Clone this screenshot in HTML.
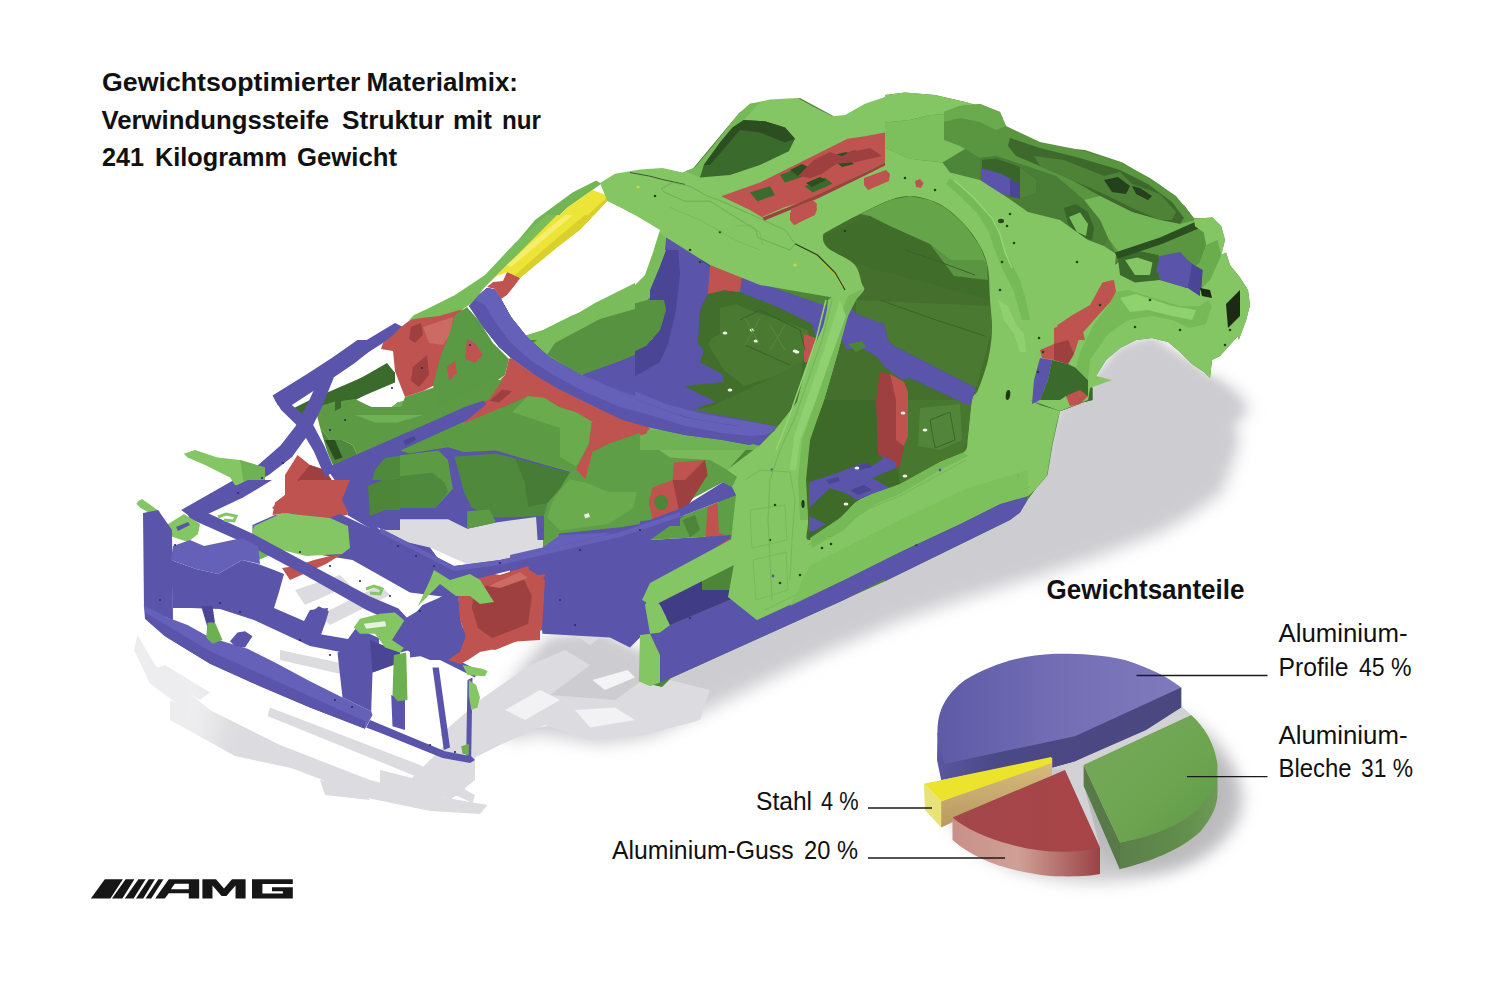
<!DOCTYPE html>
<html><head><meta charset="utf-8"><title>Gewichtsoptimierter Materialmix</title>
<style>
html,body{margin:0;padding:0;background:#fff;}
body{width:1500px;height:1000px;overflow:hidden;font-family:"Liberation Sans",sans-serif;}
svg{display:block}
text{font-family:"Liberation Sans",sans-serif;fill:#111}
</style></head><body>
<svg width="1500" height="1000" viewBox="0 0 1500 1000">
<defs>
<filter id="b4" filterUnits="userSpaceOnUse" x="0" y="0" width="1500" height="1000"><feGaussianBlur stdDeviation="4"/></filter>
<filter id="b8" filterUnits="userSpaceOnUse" x="0" y="0" width="1500" height="1000"><feGaussianBlur stdDeviation="8"/></filter>
<filter id="b14" filterUnits="userSpaceOnUse" x="0" y="0" width="1500" height="1000"><feGaussianBlur stdDeviation="14"/></filter>
<filter id="b1" filterUnits="userSpaceOnUse" x="0" y="0" width="1500" height="1000"><feGaussianBlur stdDeviation="0.6"/></filter>
<linearGradient id="gBlueTop" x1="0" y1="0" x2="1" y2="0"><stop offset="0" stop-color="#5e5aa6"/><stop offset="0.55" stop-color="#7570b6"/><stop offset="1" stop-color="#7f7abc"/></linearGradient>
<linearGradient id="gBlueSide" x1="0" y1="0" x2="1" y2="0"><stop offset="0" stop-color="#5a56a0"/><stop offset="0.25" stop-color="#4b4886"/><stop offset="1" stop-color="#4a4780"/></linearGradient>
<linearGradient id="gGreenTop" x1="0" y1="0" x2="1" y2="1"><stop offset="0" stop-color="#74a85a"/><stop offset="0.5" stop-color="#6fa652"/><stop offset="1" stop-color="#5f9a45"/></linearGradient>
<linearGradient id="gGreenSide" x1="0" y1="0" x2="1" y2="0"><stop offset="0" stop-color="#5d7f4b"/><stop offset="0.5" stop-color="#5f8a4a"/><stop offset="1" stop-color="#6d9a55"/></linearGradient>
<linearGradient id="gRedTop" x1="0" y1="0" x2="1" y2="0"><stop offset="0" stop-color="#a3474a"/><stop offset="1" stop-color="#a84448"/></linearGradient>
<linearGradient id="gRedSide" x1="0" y1="0" x2="1" y2="0"><stop offset="0" stop-color="#c89088"/><stop offset="0.45" stop-color="#cfa096"/><stop offset="1" stop-color="#9a4244"/></linearGradient>
<linearGradient id="gTan" x1="0" y1="0" x2="0" y2="1"><stop offset="0" stop-color="#d6bc7c"/><stop offset="1" stop-color="#b89860"/></linearGradient>
<radialGradient id="gPieSh" cx="0.5" cy="0.5" r="0.5"><stop offset="0.7" stop-color="#b8b8bc" stop-opacity="0.9"/><stop offset="1" stop-color="#ffffff" stop-opacity="0"/></radialGradient>

</defs>
<rect width="1500" height="1000" fill="#fff"/>
<polygon points="1060.0,410.0 1090.0,384.0 1120.0,348.0 1152.0,338.0 1192.0,364.0 1210.0,378.0 1222.0,380.0 1245.0,398.0 1250.0,415.0 1235.0,420.0 1240.0,440.0 1235.0,460.0 1222.0,494.0 1190.0,517.0 1160.0,534.0 1100.0,557.0 1040.0,577.0 965.0,600.0 900.0,622.0 820.0,656.0 750.0,690.0 700.0,715.0 650.0,738.0 600.0,745.0 540.0,735.0 510.0,740.0 488.0,725.0 498.0,702.0 522.0,665.0 548.0,636.0 600.0,630.0 640.0,652.0 700.0,640.0 900.0,540.0 1030.0,490.0" fill="#d2d2d6" filter="url(#b8)"/>
<polygon points="1060.0,410.0 1090.0,384.0 1120.0,348.0 1152.0,338.0 1192.0,364.0 1210.0,378.0 1220.0,384.0 1238.0,402.0 1240.0,415.0 1228.0,422.0 1232.0,440.0 1226.0,456.0 1214.0,486.0 1184.0,508.0 1154.0,524.0 1094.0,546.0 1034.0,566.0 960.0,588.0 895.0,610.0 815.0,645.0 745.0,678.0 695.0,703.0 648.0,725.0 600.0,732.0 545.0,722.0 515.0,726.0 498.0,716.0 508.0,700.0 530.0,668.0 552.0,642.0 600.0,636.0 640.0,655.0 700.0,642.0 900.0,542.0 1030.0,492.0" fill="#cdcdd1" filter="url(#b4)"/>
<polygon points="592.5,680.0 627.5,670.0 635.0,677.5 605.0,690.0" fill="#f4f4f6" filter="url(#b1)"/>
<polygon points="550.0,712.5 602.5,702.5 627.5,720.0 610.0,730.0 560.0,722.5" fill="#f4f4f6" filter="url(#b1)"/>
<polygon points="640.0,697.5 670.0,690.0 685.0,695.0 660.0,705.0" fill="#f4f4f6" filter="url(#b1)"/>
<polygon points="522.5,720.0 540.0,712.5 552.5,725.0 525.0,730.0" fill="#f4f4f6" filter="url(#b1)"/>
<g fill="#dcdce0" filter="url(#b1)"><polygon points="137.5,635.0 155.0,665.0 210.0,710.0 280.0,745.0 370.0,780.0 430.0,795.0 487.5,805.0 480.0,814.0 430.0,811.0 370.0,798.5 280.0,763.5 210.0,728.5 150.0,683.5 134.0,650.0"/><polygon points="170.0,700.0 240.0,735.0 290.0,750.0 300.0,770.0 235.0,756.0 170.0,720.0"/><polygon points="150.0,670.0 165.0,665.0 210.0,692.5 200.0,700.0"/><polygon points="270.0,707.5 420.0,765.0 475.0,795.0 472.5,803.0 415.0,776.0 267.5,716.0"/><polygon points="295.0,590.0 340.0,575.0 350.0,585.0 305.0,605.0"/><polygon points="320.0,615.0 380.0,585.0 390.0,595.0 330.0,625.0"/><polygon points="280.0,650.0 350.0,665.0 345.0,675.0 280.0,660.0"/><polygon points="320.0,780.0 360.0,787.5 370.0,800.0 325.0,795.0"/><polygon points="380.0,770.0 420.0,780.0 465.0,780.0 465.0,795.0 425.0,800.0 380.0,785.0"/><polygon points="440.0,735.0 480.0,700.0 530.0,665.0 565.0,650.0 590.0,665.0 550.0,695.0 615.0,700.0 650.0,675.0 710.0,690.0 700.0,720.0 645.0,735.0 590.0,740.0 545.0,725.0 500.0,745.0 470.0,760.0"/><polygon points="410.0,780.0 450.0,740.0 475.0,750.0 475.0,780.0 450.0,800.0"/><polygon points="560.0,625.0 600.0,600.0 630.0,615.0 590.0,645.0"/></g>
<polygon points="505.0,710.0 540.0,690.0 560.0,700.0 525.0,720.0" fill="#f2f2f4"/>
<polygon points="575.0,710.0 615.0,707.5 635.0,720.0 590.0,727.5" fill="#f2f2f4"/>
<ellipse cx="160" cy="700" rx="60" ry="90" fill="#fff" opacity="0.5" filter="url(#b14)"/>
<polygon points="600.0,183.0 690.0,172.0 740.0,112.0 800.0,98.0 850.0,125.0 885.0,97.0 885.0,95.0 905.0,92.5 935.0,95.0 967.5,102.5 995.0,111.2 1002.5,117.5 1003.8,127.5 1017.5,138.8 1045.0,146.2 1085.0,150.0 1122.5,162.5 1160.0,185.0 1185.0,206.2 1193.8,218.8 1212.5,217.5 1221.2,226.2 1225.0,240.0 1221.2,255.0 1226.0,252.5 1230.0,265.0 1240.0,277.5 1248.0,290.0 1250.0,305.0 1246.2,320.0 1238.8,340.0 1238.0,336.0 1220.0,356.0 1212.0,360.0 1210.0,378.0 1204.0,372.0 1192.0,364.0 1180.0,352.0 1168.0,342.0 1152.0,338.0 1136.0,340.0 1120.0,348.0 1106.0,360.0 1096.0,376.0 1090.0,384.0 1088.0,400.0 1092.5,387.5 1092.5,400.0 1082.5,402.5 1070.0,407.5 1060.0,411.2 1057.5,422.5 1052.5,445.0 1047.5,475.0 1035.0,490.0 1027.5,500.0 1020.0,512.5 1010.0,520.0 885.0,581.2 671.0,678.0 662.0,687.0 645.0,683.0 640.0,660.0 642.0,636.0 690.0,600.0 727.0,470.0 700.0,400.0 655.0,345.0 645.0,300.0 655.0,240.0" fill="#4d8539" />
<polygon points="530.0,340.0 642.5,340.0 627.5,357.5 582.5,372.5 560.0,367.5 540.0,357.5" fill="#4d8539" />
<polygon points="705.0,340.0 817.5,340.0 805.0,370.0 797.5,402.5 775.0,427.5 735.0,426.2 692.5,412.5 717.5,402.5 685.0,385.0 722.5,382.5 722.5,377.5 703.8,365.0" fill="#4a7f36" />
<polygon points="582.5,372.5 627.5,357.5 642.5,340.0 705.0,340.0 703.8,365.0 722.5,377.5 722.5,382.5 685.0,385.0 717.5,402.5 692.5,412.5 635.0,400.0" fill="#5a54aa" />
<polygon points="632.5,385.0 660.0,377.5 685.0,385.0 665.0,393.8 640.0,397.5" fill="#4a4594" />
<polygon points="510.0,455.0 572.5,472.5 545.0,515.0 510.0,520.0" fill="#4d8539" />
<polygon points="510.0,450.0 520.0,453.8 572.5,470.0 572.5,475.0 510.0,457.5" fill="#5a54aa" />
<polygon points="510.0,380.0 535.0,390.0 595.0,417.5 590.0,445.0 576.2,467.5 583.8,477.5 592.5,457.5 615.0,440.0 630.0,432.5 647.5,436.2 650.0,427.5 685.0,435.0 722.5,440.0 750.0,445.0 727.5,470.0 737.5,477.5 732.5,487.5 722.5,482.5 685.0,502.5 652.5,525.0 560.0,535.0 542.5,547.5 545.0,515.0 572.5,472.5 510.0,455.0" fill="#5e9e46" />
<polygon points="650.0,427.5 685.0,435.0 722.5,440.0 750.0,445.0 727.5,470.0 710.0,460.0 670.0,457.5 645.0,440.0" fill="#79bb5a" />
<polygon points="572.5,472.5 592.5,457.5 615.0,440.0 635.0,445.0 640.0,480.0 620.0,510.0 585.0,520.0 550.0,525.0 545.0,515.0" fill="#6aac4e" />
<polygon points="630.0,395.0 717.5,401.2 712.5,423.8 682.5,421.2 650.0,412.5" fill="#5a54aa" />
<polygon points="652.5,526.2 685.0,515.0 736.2,495.0 740.0,537.5 735.0,535.0 650.0,540.0" fill="#5e9e46" />
<polygon points="510.0,361.2 540.0,377.5 585.0,402.5 622.5,420.0 650.0,427.5 647.5,436.2 630.0,432.5 595.0,417.5 535.0,390.0 510.0,380.0" fill="#bf5350" />
<polygon points="595.0,417.5 630.0,432.5 615.0,440.0 592.5,457.5 583.8,477.5 576.2,467.5 590.0,445.0" fill="#bf5350" />
<polygon points="598.8,426.2 610.0,425.0 617.5,433.8 605.0,440.0" fill="#6db052" />
<polygon points="673.8,462.5 705.0,460.0 707.5,475.0 690.0,502.5 680.0,515.0 652.5,520.0 648.8,502.5 652.5,487.5 672.5,480.0" fill="#bf5350" />
<polygon points="672.5,480.0 685.0,480.0 705.0,460.0 707.5,475.0 690.0,502.5 680.0,515.0" fill="#9e4040" />
<ellipse cx="661.2" cy="502.5" rx="7" ry="7.5" fill="#4d8539"/>
<polygon points="722.5,482.5 732.5,487.5 736.2,495.0 685.0,515.0 652.5,526.2 560.0,537.5 557.5,532.5 650.0,520.0 682.5,507.5" fill="#5a54aa" />
<polygon points="707.5,507.5 717.5,502.5 718.8,532.5 730.0,537.5 727.5,545.0 705.0,546.2" fill="#bf5350" />
<polygon points="682.5,520.0 695.0,515.0 700.0,530.0 690.0,537.5" fill="#4d8539" />
<polygon points="510.0,552.5 542.5,547.5 560.0,535.0 652.5,526.2 685.0,515.0 650.0,540.0 735.0,535.0 650.0,590.0 510.0,590.0" fill="#5a54aa" />
<polygon points="510.0,552.5 542.5,547.5 560.0,535.0 610.0,532.5 585.0,547.5 535.0,557.5 510.0,562.5" fill="#6560b8" />
<polygon points="510.0,520.0 545.0,515.0 542.5,547.5 510.0,555.0" fill="#dcdce0" />
<polygon points="1038.8,365.0 1050.0,362.5 1047.5,395.0 1040.0,405.0 1032.5,400.0" fill="#5a54aa" />
<polygon points="1050.0,362.5 1070.0,365.0 1085.0,382.5 1092.5,387.5 1092.5,400.0 1082.5,402.5 1070.0,407.5 1060.0,411.2 1040.0,405.0 1047.5,395.0" fill="#3a6a2c" />
<polygon points="1040.0,340.0 1075.0,340.0 1070.0,365.0 1050.0,362.5 1055.0,350.0" fill="#bf5350" />
<polygon points="1065.0,392.5 1085.0,387.5 1085.0,398.8 1072.5,402.5" fill="#bf5350" />
<polygon points="1075.0,340.0 1120.0,348.0 1106.0,360.0 1096.0,376.0 1112.0,380.0 1090.0,388.0 1088.0,400.0 1078.0,384.0 1070.0,365.0" fill="#84c663" />
<polygon points="1027.5,500.0 1020.0,512.5 1010.0,520.0 885.0,581.2 885.0,560.0 1000.0,512.5" fill="#5a54aa" />
<polygon points="540.0,590.0 610.0,590.0 610.0,637.5 542.5,633.8 540.0,615.0" fill="#5a54aa" />
<polygon points="610.0,590.0 642.5,590.0 650.0,615.0 642.5,635.0 630.0,647.5 610.0,637.5" fill="#5a54aa" />
<polygon points="642.5,635.0 660.0,632.5 670.0,625.0 735.0,597.5 755.0,590.0 885.0,562.5 885.0,577.5 842.5,597.5 660.0,682.5 658.8,655.0" fill="#5a54aa" />
<polygon points="636.0,582.0 654.0,578.0 654.0,638.0 640.0,638.0" fill="#5a54aa" />
<polygon points="676.0,582.0 702.0,572.0 702.0,594.0 676.0,600.0" fill="#403c86" />
<polygon points="640.0,635.0 650.0,633.8 660.0,655.0 660.0,682.5 650.0,686.2 638.8,681.2" fill="#84c663" />
<polygon points="645.0,605.0 650.0,595.0 660.0,605.0 670.0,625.0 660.0,632.5 650.0,633.8" fill="#84c663" />
<polygon points="650.0,595.0 685.0,590.0 735.0,590.0 735.0,597.5 670.0,625.0 660.0,605.0" fill="#403c86" />
<polygon points="735.0,597.5 745.0,590.0 842.5,590.0 785.0,610.0 755.0,615.0" fill="#84c663" />
<polygon points="660.0,230.0 670.0,237.5 665.0,250.0 657.5,275.0 650.0,297.5 635.0,307.5 605.0,320.0 560.0,340.0 510.0,340.0 542.5,330.0 572.5,315.0 605.0,302.5 630.0,290.0 645.0,275.0 653.8,250.0" fill="#79bd5a" />
<polygon points="666.2,237.5 685.0,245.0 702.5,255.0 710.0,265.0 707.5,292.5 702.5,340.0 665.0,340.0 662.5,305.0 650.0,297.5 657.5,275.0 665.0,250.0" fill="#5a54aa" />
<polygon points="685.0,245.0 702.5,255.0 710.0,265.0 707.5,292.5 702.5,340.0 692.5,340.0 695.0,265.0" fill="#4a4594" />
<polygon points="710.0,265.0 742.5,277.5 740.0,292.5 733.8,297.5 707.5,292.5" fill="#bf5350" />
<polygon points="742.5,277.5 827.5,306.2 885.0,330.0 885.0,340.0 842.5,340.0 820.0,323.8 740.0,292.5" fill="#5a54aa" />
<polygon points="707.5,292.5 733.8,297.5 740.0,292.5 820.0,323.8 842.5,340.0 702.5,340.0" fill="#3f7030" />
<polygon points="510.0,250.0 535.0,220.0 572.5,192.5 596.2,180.5 601.2,183.8 592.5,190.0 567.5,207.5 510.0,262.5" fill="#72b555" />
<polygon points="510.0,262.5 567.5,207.5 592.5,190.0 606.2,195.0 607.5,201.2 580.0,230.0 520.0,276.2 510.0,272.5" fill="#ece436" />
<polygon points="510.0,272.5 520.0,276.2 580.0,230.0 607.5,201.2 606.2,198.0 577.5,225.0 517.5,270.0 510.0,267.5" fill="#d8cf2c" />
<polygon points="666.0,250.0 700.0,250.0 702.0,262.0 710.0,266.0 708.0,294.0 700.0,310.0 698.0,344.0 704.0,350.0 700.0,362.0 722.0,374.0 724.0,382.0 684.0,386.0 716.0,402.0 696.0,408.0 776.0,426.0 760.0,446.0 700.0,430.0 650.0,416.0 600.0,398.0 600.0,364.0 620.0,358.0 646.0,346.0 660.0,330.0 666.0,310.0 664.0,300.0 650.0,300.0 650.0,290.0 660.0,266.0" fill="#5a54aa" />
<polygon points="666.0,250.0 678.0,250.0 680.0,274.0 676.0,310.0 668.0,344.0 660.0,362.0 632.0,378.0 600.0,378.0 600.0,364.0 620.0,358.0 646.0,346.0 660.0,330.0 666.0,310.0 664.0,300.0 650.0,300.0 650.0,290.0 660.0,266.0" fill="#4a4594" />
<polygon points="600.0,374.0 632.0,390.0 666.0,404.0 704.0,414.0 740.0,420.0 776.0,426.0 772.0,431.0 740.0,426.0 700.0,420.0 660.0,410.0 628.0,396.0 600.0,382.0" fill="#6560b8" />
<polygon points="708.0,294.0 724.0,290.0 740.0,292.0 780.0,308.0 812.0,324.0 818.0,340.0 810.0,370.0 800.0,398.0 788.0,420.0 776.0,426.0 696.0,408.0 716.0,402.0 684.0,386.0 724.0,382.0 722.0,374.0 700.0,362.0 704.0,350.0 698.0,344.0 700.0,310.0" fill="#416e2b" />
<polygon points="720.0,308.0 736.0,304.0 744.0,308.0 808.0,330.0 810.0,346.0 802.0,362.0 780.0,374.0 770.0,378.0 744.0,386.0 724.0,370.0 708.0,344.0 712.0,338.0 720.0,334.0" fill="#4a7a32" />
<polygon points="694.0,410.0 712.0,406.0 780.0,374.0 802.0,362.0 800.0,398.0 788.0,420.0 776.0,426.0" fill="#477630" />
<polygon points="710.0,266.0 742.0,276.0 740.0,292.0 724.0,290.0 708.0,294.0" fill="#bf5350" />
<polygon points="742.0,276.0 780.0,290.0 826.0,308.0 858.0,314.0 888.0,330.0 888.0,346.0 860.0,344.0 846.0,340.0 816.0,338.0 812.0,324.0 780.0,308.0 740.0,292.0" fill="#5a54aa" />
<polygon points="804.0,334.0 816.0,338.0 812.0,362.0 804.0,362.0" fill="#bf5350" />
<polygon points="648.0,250.0 666.0,250.0 660.0,266.0 650.0,290.0 648.0,300.0 632.0,304.0 616.0,310.0 600.0,318.0 600.0,302.0 620.0,296.0 636.0,282.0" fill="#7abc5b" />
<polygon points="600.0,318.0 616.0,310.0 632.0,304.0 648.0,300.0 664.0,300.0 666.0,310.0 660.0,330.0 646.0,346.0 620.0,358.0 600.0,364.0" fill="#56923f" />
<polygon points="600.0,410.0 630.0,416.0 648.0,424.0 646.0,434.0 620.0,440.0 600.0,450.0" fill="#bf5350" />
<polygon points="648.0,430.0 700.0,430.0 760.0,446.0 766.0,450.0 600.0,450.0 620.0,440.0 646.0,434.0" fill="#6fb253" />
<polygon points="600.0,183.0 615.0,173.8 640.0,169.5 662.5,168.0 682.5,172.5 695.0,167.5 710.0,150.0 725.0,131.2 738.8,113.8 750.0,103.8 770.0,99.5 797.5,98.0 812.5,106.2 832.5,116.2 845.0,115.0 865.0,103.8 885.0,97.0 885.0,202.0 860.0,214.0 823.0,236.0 832.5,250.0 855.0,265.0 862.5,280.0 855.0,302.5 850.0,340.0 820.0,340.0 827.5,307.5 832.5,297.5 760.0,285.0 710.0,265.0 666.2,237.5 635.0,215.0 607.5,201.2" fill="#84c663" />
<polygon points="685.0,171.2 695.0,167.5 710.0,150.0 725.0,131.2 738.8,113.8 750.0,103.8 760.0,102.5 743.8,120.0 732.5,127.5 720.0,142.5 703.8,165.0 700.0,177.5" fill="#76b958" />
<polygon points="743.8,120.0 765.0,121.2 785.0,127.5 795.0,138.8 788.8,151.2 760.0,165.0 730.0,175.0 700.0,177.5 703.8,165.0 720.0,142.5 732.5,127.5" fill="#3a6a2c" />
<polygon points="743.8,120.0 765.0,121.2 785.0,127.5 795.0,138.8 785.0,142.5 760.0,132.5 740.0,130.0 725.0,147.5 710.0,165.0 703.8,165.0 720.0,142.5 732.5,127.5" fill="#2c4f22" />
<polygon points="721.2,196.2 760.0,182.5 810.0,157.5 847.5,138.8 865.0,136.2 885.0,132.5 885.0,162.5 865.0,172.5 817.5,195.0 787.5,207.5 762.5,217.5 750.0,210.0" fill="#bf5350" />
<polygon points="750.0,192.5 770.0,186.2 775.0,195.0 757.5,201.2" fill="#3a6a2c" />
<polygon points="780.0,175.0 800.0,167.5 807.5,175.0 785.0,182.5" fill="#3a6a2c" />
<polygon points="805.0,186.2 825.0,177.5 832.5,183.8 812.5,192.5" fill="#3a6a2c" />
<polygon points="832.5,157.5 855.0,150.0 860.0,160.0 840.0,165.0" fill="#3a6a2c" />
<polygon points="762.5,217.5 787.5,207.5 817.5,195.0 865.0,172.5 885.0,162.5 885.0,166.2 865.0,176.2 818.8,198.8 788.8,211.2 765.0,221.2" fill="#9e4040" />
<polygon points="790.0,212.5 812.5,203.8 817.0,208.8 815.0,215.0 793.8,225.0 790.0,220.0" fill="#bf5350" />
<polygon points="863.8,180.0 885.0,170.0 885.0,183.8 867.5,191.2 863.8,186.2" fill="#bf5350" />
<polyline points="630.0,172.5 650.0,176.2 662.5,179.5 685.0,184.5" fill="none" stroke="#2c3a1c" stroke-width="0.8" />
<polyline points="795.0,243.8 817.5,255.0 835.0,272.5 845.0,290.0" fill="none" stroke="#2c3a1c" stroke-width="1.2" />
<polygon points="607.5,201.2 635.0,215.0 660.0,230.0 653.8,250.0 645.0,275.0 630.0,290.0 605.0,302.5 572.5,315.0 542.5,330.0 510.0,340.0 500.0,342.5 500.0,280.0 520.0,276.2 580.0,230.0" fill="#fff" />
<polygon points="885.0,95.0 905.0,92.5 935.0,95.0 967.5,102.5 995.0,111.2 1002.5,117.5 1003.8,127.5 985.0,122.5 960.0,113.8 930.0,115.0 910.0,120.0 885.0,122.5" fill="#84c663" />
<polygon points="885.0,122.5 910.0,120.0 930.0,115.0 960.0,113.8 985.0,122.5 967.5,147.5 942.5,162.5 910.0,158.8 885.0,147.5" fill="#7cc05d" />
<polygon points="960.0,106.0 980.0,104.0 1000.0,112.0 1006.0,126.0 1040.0,142.0 1080.0,150.0 1120.0,162.0 1150.0,178.0 1176.0,196.0 1194.0,218.0 1212.0,220.0 1218.0,224.0 1224.0,240.0 1220.0,256.0 1212.0,270.0 1200.0,280.0 1192.0,272.0 1160.0,256.0 1116.0,254.0 1108.0,238.0 1084.0,200.0 1056.0,176.0 1020.0,164.0 996.0,156.0 980.0,158.0 960.0,146.0 944.0,140.0 944.0,112.0" fill="#5a9540" />
<polygon points="944.0,112.0 960.0,106.0 980.0,104.0 1000.0,112.0 1006.0,126.0 996.0,130.0 980.0,122.0 960.0,118.0 944.0,122.0" fill="#6aab4e" />
<polygon points="1010.0,138.0 1040.0,148.0 1080.0,158.0 1120.0,170.0 1148.0,184.0 1172.0,202.0 1184.0,218.0 1180.0,224.0 1160.0,220.0 1132.0,212.0 1100.0,196.0 1072.0,180.0 1040.0,166.0 1016.0,156.0 1008.0,146.0" fill="#3d6a2c" />
<polygon points="1034.0,156.0 1064.0,160.0 1104.0,176.0 1120.0,172.0 1132.0,184.0 1160.0,194.0 1176.0,212.0 1172.0,220.0 1160.0,220.0 1132.0,208.0 1104.0,194.0 1072.0,180.0 1040.0,166.0" fill="#4d8237" />
<polygon points="1104.0,180.0 1118.0,177.0 1130.0,186.0 1126.0,194.0 1112.0,192.0" fill="#24401c" />
<polygon points="1132.0,186.0 1140.0,188.0 1152.0,196.0 1148.0,200.0 1136.0,194.0" fill="#24401c" />
<polygon points="1084.0,200.0 1100.0,196.0 1132.0,212.0 1160.0,220.0 1180.0,224.0 1196.0,220.0 1210.0,220.0 1160.0,240.0 1120.0,254.0 1108.0,238.0 1100.0,220.0" fill="#74b757" />
<polygon points="980.0,158.0 996.0,156.0 1020.0,164.0 1056.0,176.0 1084.0,200.0 1100.0,220.0 1108.0,238.0 1104.0,246.0 1088.0,240.0 1060.0,220.0 1028.0,212.0 1008.0,198.0 980.0,180.0" fill="#4a7d35" />
<polygon points="982.0,160.0 996.0,158.4 1020.0,167.0 1037.0,180.0 1036.0,193.0 1020.0,199.0 1008.0,196.0 982.0,180.0" fill="#3a652a" />
<polygon points="1020.0,167.0 1037.0,180.0 1036.0,193.0 1020.0,199.0 1020.0,184.0" fill="#4f8539" />
<polygon points="981.0,168.0 1002.0,174.0 1020.0,184.0 1020.0,198.0 1002.0,194.0 981.0,184.0" fill="#5a54aa" />
<polygon points="1010.0,179.0 1020.0,184.0 1020.0,198.0 1010.0,196.0" fill="#4a4594" />
<polygon points="1064.0,208.0 1076.0,204.0 1088.0,212.0 1094.0,228.0 1092.0,240.0 1080.0,238.0 1068.0,224.0" fill="#3a652a" />
<polygon points="1069.0,217.0 1080.0,212.4 1088.0,224.0 1086.0,236.0 1077.0,232.0" fill="#7cc05d" />
<polygon points="885.0,147.5 910.0,158.8 942.5,162.5 950.0,172.5 980.0,180.0 1008.0,198.0 1028.0,212.0 1060.0,220.0 1088.0,240.0 1104.0,246.0 1116.0,254.0 1115.0,265.0 1135.0,250.0 1158.8,255.0 1160.0,280.0 1195.0,290.0 1210.0,280.0 1221.2,255.0 1226.0,252.5 1230.0,265.0 1240.0,277.5 1248.0,290.0 1250.0,305.0 1246.2,320.0 1238.8,340.0 1238.0,336.0 1220.0,356.0 1212.0,360.0 1210.0,378.0 1204.0,372.0 1192.0,364.0 1180.0,352.0 1168.0,342.0 1152.0,338.0 1136.0,340.0 1120.0,348.0 1106.0,360.0 1096.0,376.0 1090.0,384.0 1088.0,400.0 1060.0,411.0 1030.0,400.0 885.0,342.5" fill="#84c663" />
<polygon points="1102.5,282.5 1112.5,280.0 1115.0,290.0 1110.0,302.5 1092.5,315.0 1082.5,330.0 1085.0,340.0 1055.0,340.0 1057.5,325.0 1072.5,315.0 1090.0,305.0" fill="#bf5350" />
<polygon points="1117.5,255.0 1135.0,250.0 1158.8,255.0 1160.0,280.0 1135.0,282.5 1120.0,275.0" fill="#3a6a2c" />
<polygon points="1125.0,260.0 1137.5,257.5 1152.5,262.5 1150.0,275.0 1135.0,275.0" fill="#84c663" />
<polygon points="1115.0,252.5 1160.0,237.5 1193.8,222.5 1212.5,218.0 1215.0,221.2 1195.0,230.0 1162.5,243.8 1117.5,258.8" fill="#2c4f22" />
<polygon points="1193.8,218.8 1212.5,217.5 1221.2,226.2 1225.0,240.0 1221.2,255.0 1210.0,280.0 1202.5,287.5 1192.5,282.5 1191.2,270.0 1200.0,262.5 1206.2,245.0 1203.8,232.5 1195.0,226.2" fill="#84c663" />
<polygon points="1206.2,245.0 1217.5,240.0 1221.2,255.0 1210.0,280.0 1202.5,287.5 1192.5,282.5 1191.2,270.0 1200.0,262.5" fill="#6aad4f" />
<polygon points="1161.2,256.2 1187.5,261.2 1202.5,270.0 1201.2,290.0 1185.0,287.5 1160.0,280.0" fill="#5a54aa" />
<polygon points="1187.5,261.2 1202.5,270.0 1201.2,290.0 1185.0,287.5" fill="#4a4594" />
<polygon points="762.0,217.0 785.0,207.0 816.0,198.0 850.0,180.0 890.0,160.0 902.0,158.0 930.0,170.0 960.0,190.0 1000.0,230.0 1030.0,300.0 1035.0,340.0 1032.0,360.0 1030.0,400.0 1040.0,405.0 1060.0,411.0 1057.0,422.0 1052.0,445.0 1047.0,475.0 1035.0,490.0 1028.0,496.0 1000.0,504.0 960.0,524.0 900.0,552.0 844.0,580.0 758.0,621.0 728.0,597.0 734.0,564.0 731.0,540.0 736.0,495.0 732.0,487.0 737.0,477.0 727.0,470.0 760.0,445.0 775.0,430.0 797.0,402.0 805.0,370.0 817.0,340.0 826.0,320.0 828.0,300.0 832.0,297.0" fill="#84c663" />
<polygon points="741.0,534.0 650.0,583.0 642.0,600.0 653.0,606.0 740.0,562.0" fill="#84c663" />
<clipPath id="cDO"><path d="M823.0,236.0 C822.7,239.0 822.8,243.3 828.0,248.0 C833.2,252.7 848.3,258.0 854.0,264.0 C859.7,270.0 860.3,279.7 862.0,284.0 C863.7,288.3 865.0,287.3 864.0,290.0 C863.0,292.7 858.7,295.7 856.0,300.0 C853.3,304.3 851.0,307.3 848.0,316.0 C845.0,324.7 842.0,338.0 838.0,352.0 C834.0,366.0 828.7,385.3 824.0,400.0 C819.3,414.7 813.0,426.7 810.0,440.0 C807.0,453.3 806.3,466.7 806.0,480.0 C805.7,493.3 807.5,510.0 808.0,520.0 C808.5,530.0 803.7,540.3 809.0,540.0 C814.3,539.7 832.2,524.3 840.0,518.0 C847.8,511.7 850.7,506.0 856.0,502.0 C861.3,498.0 864.7,497.0 872.0,494.0 C879.3,491.0 888.7,489.3 900.0,484.0 C911.3,478.7 929.3,467.3 940.0,462.0 C950.7,456.7 959.3,456.3 964.0,452.0 C968.7,447.7 966.7,444.7 968.0,436.0 C969.3,427.3 970.3,407.7 972.0,400.0 C973.7,392.3 975.3,396.7 978.0,390.0 C980.7,383.3 985.7,370.0 988.0,360.0 C990.3,350.0 991.7,340.0 992.0,330.0 C992.3,320.0 990.7,310.3 990.0,300.0 C989.3,289.7 989.7,277.0 988.0,268.0 C986.3,259.0 984.0,253.3 980.0,246.0 C976.0,238.7 969.7,230.3 964.0,224.0 C958.3,217.7 951.7,212.0 946.0,208.0 C940.3,204.0 936.0,202.0 930.0,200.0 C924.0,198.0 916.7,196.0 910.0,196.0 C903.3,196.0 898.3,197.0 890.0,200.0 C881.7,203.0 870.0,209.0 860.0,214.0 C850.0,219.0 836.2,226.3 830.0,230.0 C823.8,233.7 823.3,233.0 823.0,236.0Z"/></clipPath>
<g clip-path="url(#cDO)">
<rect x="790" y="180" width="220" height="380" fill="#456f2d"/>
<polygon points="823.0,236.0 870.0,216.0 890.0,226.0 930.0,244.0 950.0,260.0 982.0,260.0 988.0,280.0 990.0,300.0 856.0,264.0 828.0,248.0" fill="#416d2b" />
<polygon points="860.0,214.0 890.0,200.0 910.0,196.0 930.0,200.0 946.0,208.0 964.0,224.0 980.0,246.0 987.0,264.0 982.0,260.0 950.0,260.0 930.0,244.0 890.0,226.0 870.0,216.0" fill="#65a449" />
<polygon points="930.0,244.0 950.0,260.0 982.0,260.0 987.0,264.0 988.0,280.0 954.0,276.0 942.0,260.0" fill="#5a9641" />
<polygon points="856.0,300.0 990.0,306.0 992.0,330.0 976.0,388.0 894.0,346.0 888.0,340.0 884.0,324.0 856.0,314.0" fill="#4a7a31" />
<polygon points="848.0,316.0 884.0,324.0 888.0,340.0 894.0,346.0 976.0,388.0 970.0,406.0 910.0,378.0 902.0,380.0 886.0,368.0 878.0,358.0 866.0,350.0 846.0,349.0" fill="#3f6a29" />
<polygon points="824.0,400.0 876.0,400.0 878.0,454.0 860.0,464.0 809.0,482.0 806.0,480.0 810.0,440.0" fill="#3d6a28" />
<polygon points="908.0,400.0 972.0,400.0 968.0,436.0 964.0,452.0 940.0,462.0 900.0,484.0 900.0,466.0 904.0,446.0 908.0,436.0" fill="#48772f" />
<polygon points="920.0,408.0 960.0,404.0 962.0,440.0 940.0,450.0 918.0,446.0" fill="#52853a" />
<polygon points="809.0,482.0 860.0,464.0 878.0,454.0 896.0,462.0 900.0,484.0 872.0,494.0 856.0,502.0 840.0,518.0 809.0,540.0" fill="#3f6b29" />
<polygon points="790.0,298.0 850.0,306.0 856.0,314.0 884.0,324.0 888.0,340.0 894.0,346.0 976.0,388.0 970.0,406.0 910.0,378.0 902.0,380.0 886.0,368.0 878.0,358.0 866.0,350.0 846.0,349.0 842.0,340.0 810.0,336.0 790.0,320.0" fill="#5a54aa" />
<polygon points="848.0,344.0 862.0,341.0 866.0,347.0 856.0,352.0" fill="#4d8539" />
<polygon points="880.0,372.0 890.0,374.0 904.0,382.0 908.0,392.0 908.0,436.0 904.0,446.0 900.0,466.0 896.0,468.0 878.0,454.0 876.0,400.0" fill="#9e4040" />
<polygon points="890.0,374.0 904.0,382.0 908.0,392.0 908.0,436.0 904.0,446.0 896.0,440.0 896.0,400.0" fill="#bf5350" />
<polygon points="809.0,482.0 822.0,478.0 840.0,472.0 860.0,464.0 872.0,466.0 884.0,458.0 878.0,454.0 896.0,462.0 896.0,468.0 872.0,478.0 890.0,488.0 872.0,496.0 856.0,500.0 848.0,494.0 830.0,488.0 809.0,508.0" fill="#5a54aa" />
<polygon points="826.0,480.0 838.0,477.0 840.0,481.0 829.0,484.0" fill="#4a4594" />
<polygon points="850.0,490.0 864.0,485.0 872.0,490.0 858.0,495.0" fill="#4a4594" />
<polygon points="854.0,466.0 868.0,463.0 872.0,467.0 860.0,470.0" fill="#4a4594" />
<polygon points="809.0,516.0 826.0,524.0 816.0,530.0 809.0,532.0" fill="#5a54aa" />
</g>
<polygon points="864.0,288.0 856.0,300.0 848.0,316.0 838.0,352.0 824.0,400.0 810.0,440.0 806.0,480.0 808.0,520.0 800.0,520.0 798.0,480.0 802.0,440.0 816.0,400.0 830.0,352.0 840.0,316.0 848.0,296.0" fill="#76ba58" />
<polygon points="840.0,300.0 846.0,316.0 830.0,360.0 816.0,400.0 800.0,440.0 796.0,470.0 790.0,470.0 794.0,436.0 808.0,396.0 822.0,356.0" fill="#90d070" />
<polygon points="950.0,178.0 970.0,194.0 990.0,214.0 998.0,226.0 1002.0,244.0 1010.0,260.0 1020.0,280.0 1026.0,300.0 1030.0,320.0 1022.0,320.0 1014.0,292.0 1002.0,268.0 994.0,248.0 988.0,230.0 976.0,212.0 960.0,196.0 946.0,184.0" fill="#76ba58" />
<polygon points="998.0,300.0 1008.0,306.0 1016.0,324.0 1024.0,334.0 1026.0,352.0 1020.0,352.0 1014.0,334.0 1004.0,320.0" fill="#90d070" />
<polygon points="810.0,538.0 840.0,518.0 856.0,502.0 872.0,494.0 900.0,484.0 940.0,462.0 964.0,452.0 968.0,456.0 940.0,470.0 900.0,494.0 876.0,504.0 860.0,514.0 844.0,530.0 812.0,548.0" fill="#76ba58" />
<polygon points="755.0,621.0 844.0,580.0 900.0,552.0 960.0,524.0 1000.0,504.0 1028.0,496.0 1020.0,512.0 960.0,540.0 844.0,600.0 671.0,678.0 662.0,660.0" fill="#5a54aa" />
<polygon points="1040.0,358.0 1052.0,360.0 1048.0,380.0 1040.0,400.0 1032.0,404.0 1034.0,380.0" fill="#5a54aa" />
<polygon points="1052.0,360.0 1068.0,364.0 1076.0,368.0 1088.0,380.0 1088.0,396.0 1080.0,400.0 1066.0,396.0 1060.0,400.0 1048.0,400.0 1040.0,400.0 1048.0,380.0" fill="#3a6a2c" />
<polygon points="1104.0,284.0 1114.0,280.0 1116.0,292.0 1112.0,300.0 1094.0,320.0 1080.0,336.0 1074.0,354.0 1068.0,364.0 1054.0,360.0 1042.0,358.0 1040.0,350.0 1054.0,344.0 1054.0,328.0 1076.0,320.0 1090.0,306.0 1100.0,296.0" fill="#bf5350" />
<polygon points="1054.0,344.0 1068.0,340.0 1074.0,354.0 1068.0,364.0 1054.0,360.0" fill="#9e4040" />
<polygon points="1066.0,396.0 1080.0,390.0 1088.0,396.0 1080.0,404.0 1070.0,406.0" fill="#bf5350" />
<polygon points="1160.0,256.0 1180.0,252.0 1192.0,264.0 1200.0,280.0 1200.0,296.0 1188.0,288.0 1156.0,272.0" fill="#5a54aa" />
<polygon points="1192.0,264.0 1200.0,280.0 1200.0,296.0 1188.0,288.0" fill="#4a4594" />
<polygon points="1226.0,304.0 1240.0,290.0 1240.0,316.0 1228.0,328.0" fill="#1c2a14" />
<polygon points="1200.0,288.0 1210.0,290.0 1212.0,298.0 1202.0,296.0" fill="#1c2a14" />
<polygon points="1116.0,292.0 1128.0,290.0 1180.0,306.0 1200.0,306.0 1208.0,300.0 1212.0,306.0 1206.0,324.0 1190.0,328.0 1172.0,320.0 1152.0,316.0 1128.0,320.0 1108.0,334.0 1090.0,360.0 1088.0,380.0 1076.0,368.0 1080.0,352.0 1094.0,324.0 1108.0,306.0" fill="#76ba58" />
<polygon points="1120.0,298.0 1136.0,294.0 1172.0,306.0 1196.0,310.0 1192.0,320.0 1172.0,316.0 1148.0,310.0 1130.0,312.0" fill="#8fd06f" />
<polygon points="762.5,217.5 787.5,207.5 817.5,195.0 865.0,172.5 885.0,162.5 885.0,165.5 865.0,175.5 818.8,198.0 788.8,210.5 764.5,220.5" fill="#9e4040" />
<polygon points="790.0,212.5 812.5,203.8 817.0,208.8 815.0,215.0 793.8,225.0 790.0,220.0" fill="#bf5350" />
<polygon points="864.0,178.0 886.0,170.0 890.0,174.0 889.0,181.0 868.0,190.0 864.0,185.0" fill="#bf5350" />
<polygon points="791.0,209.0 813.0,200.0 817.0,204.0 816.0,212.0 795.0,225.0 791.0,220.0" fill="#bf5350" />
<polygon points="915.0,181.0 920.0,179.0 923.6,183.0 921.0,188.0 916.0,187.0" fill="#bf5350" />
<polyline points="795.0,243.8 817.5,255.0 835.0,272.5 845.0,290.0" fill="none" stroke="#2c3a1c" stroke-width="1.2" />
<polyline points="822.5,262.5 835.0,275.0 842.5,287.5" fill="none" stroke="#c8c020" stroke-width="0.8" />
<polyline points="661.2,188.8 672.5,182.5 690.0,186.2 707.5,196.2 718.8,200.0 785.0,230.0 795.0,243.8 790.0,250.0 757.5,237.5 756.2,230.0 710.0,201.2 685.0,201.2 665.0,192.5 661.2,188.8" fill="none" stroke="#6aa84e" stroke-width="0.8" />
<polygon points="790.0,170.0 802.0,164.0 810.0,168.0 798.0,176.0" fill="#2c4f22" />
<polygon points="830.0,156.0 846.0,152.0 856.0,158.0 838.0,164.0" fill="#2c4f22" />
<polygon points="806.0,183.0 820.0,177.0 826.0,180.0 812.0,187.0" fill="#2c4f22" />
<polygon points="836.0,162.0 848.0,159.0 854.0,164.0 842.0,167.0" fill="#2c4f22" />
<polygon points="814.0,160.0 830.0,152.0 842.0,156.0 850.0,152.0 870.0,148.0 882.0,156.0 856.0,162.0 836.0,164.0 822.0,174.0 810.0,178.0 798.0,176.0" fill="#9e4040" />
<polygon points="335.0,478.8 405.0,447.5 442.5,447.5 457.5,450.0 510.0,450.0 510.0,530.0 467.5,530.0 465.0,515.0 370.0,520.0 347.5,515.0 345.0,490.0" fill="#5a54aa" />
<polygon points="375.0,470.0 385.0,457.5 437.5,452.5 457.5,480.0 455.0,500.0 390.0,512.5 370.0,520.0 367.5,495.0" fill="#4f8a3c" />
<polygon points="390.0,480.0 447.5,475.0 455.0,500.0 390.0,512.5" fill="#467c35" />
<polygon points="450.0,452.5 510.0,450.0 510.0,515.0 492.5,517.5 472.5,510.0 457.5,480.0" fill="#5e9e46" />
<polygon points="467.5,515.0 492.5,520.0 495.0,527.5 470.0,531.2" fill="#5e9e46" />
<polygon points="380.0,530.0 467.5,530.0 510.0,532.5 510.0,565.0 480.0,570.0 430.0,547.5 387.5,537.5" fill="#dcdce0" />
<polygon points="405.0,447.5 465.0,423.8 485.0,412.5 510.0,405.0 510.0,451.2 457.5,450.0 442.5,447.5" fill="#5e9e46" />
<polygon points="347.5,515.0 370.0,512.5 465.0,512.5 467.5,530.0 385.0,530.0 370.0,525.0" fill="#5a54aa" />
<polygon points="290.0,410.0 310.0,400.0 385.0,367.5 395.0,372.5 395.0,382.5 330.0,410.0 297.5,422.5" fill="#3a6a2c" />
<polygon points="315.0,407.5 340.0,400.0 360.0,402.5 385.0,412.5 397.5,402.5 417.5,397.5 435.0,387.5 452.5,390.0 457.5,405.0 465.0,423.8 405.0,447.5 360.0,460.0 352.5,445.0 342.5,440.0 330.0,440.0 320.0,427.5" fill="#5c9b44" />
<polygon points="340.0,400.0 360.0,402.5 385.0,412.5 397.5,402.5 417.5,397.5 435.0,387.5 452.5,390.0 457.5,405.0 447.5,412.5 422.5,415.0 397.5,422.5 375.0,422.5 355.0,415.0" fill="#6fb253" />
<polygon points="320.0,427.5 330.0,440.0 342.5,440.0 352.5,445.0 360.0,460.0 335.0,470.0 327.5,452.5" fill="#4f8a3c" />
<polygon points="325.0,440.0 335.0,440.0 342.5,457.5 335.0,460.0" fill="#2c4f22" />
<polygon points="297.5,455.0 310.0,465.0 325.0,470.0 335.0,485.0 345.0,490.0 347.5,515.0 330.0,517.5 295.0,512.5 272.5,515.0 275.0,502.5 285.0,495.0 285.0,475.0" fill="#bf5350" />
<polygon points="310.0,465.0 325.0,470.0 335.0,485.0 332.5,500.0 315.0,490.0 305.0,500.0 297.5,480.0" fill="#9e4040" />
<ellipse cx="305.0" cy="485.0" rx="3.5" ry="2.5" fill="#84c663"/>
<polygon points="272.5,395.5 307.5,373.8 332.5,357.5 357.5,340.0 383.8,340.0 353.8,363.8 322.5,385.0 290.0,406.2 278.0,405.5" fill="#5a54aa" />
<polygon points="275.0,400.0 288.8,402.5 311.2,421.2 324.5,446.2 335.0,471.2 325.0,477.0 313.8,451.2 300.5,428.8 281.2,410.0" fill="#5a54aa" />
<polygon points="321.2,373.8 333.8,377.5 321.2,408.8 308.8,433.8 292.0,457.0 268.8,475.0 241.2,490.0 190.5,517.0 181.2,510.0 233.8,480.0 258.8,464.5 280.5,445.5 295.5,426.2 308.8,401.2" fill="#5a54aa" />
<polygon points="326.2,468.0 400.0,435.5 482.5,400.8 486.2,413.0 465.5,425.5 405.5,449.5 335.0,480.5" fill="#5a54aa" />
<polygon points="403.8,439.5 413.8,436.2 416.2,440.0 406.2,443.8" fill="#4a4594" />
<polygon points="183.8,453.8 195.0,450.0 217.5,457.5 240.0,460.0 265.0,467.5 265.0,480.0 245.0,490.0 235.0,485.0 230.0,477.5 205.0,465.0 187.5,457.5" fill="#84c663" />
<polygon points="240.0,460.0 265.0,467.5 265.0,480.0 245.0,490.0 242.5,475.0" fill="#6fb253" />
<polygon points="136.2,503.8 142.5,500.0 152.5,507.5 160.0,515.0 152.5,515.0 140.0,507.5" fill="#84c663" />
<polygon points="252.5,525.0 275.0,515.0 335.0,512.5 385.0,537.5 447.5,571.2 510.0,590.0 510.0,605.0 410.0,592.5 352.5,560.0 290.0,550.0 252.5,540.0" fill="#5a54aa" />
<polygon points="347.5,515.0 370.0,520.0 387.5,537.5 430.0,547.5 447.5,571.2 385.0,537.5" fill="#5a54aa" />
<polygon points="189.0,512.0 234.0,486.4 248.0,480.0 272.0,480.0 243.0,497.6 196.0,519.6" fill="#5a54aa" />
<polygon points="272.0,508.0 282.0,498.0 300.0,480.0 350.0,480.0 342.0,500.0 348.0,512.0 330.0,518.0 282.0,513.0" fill="#bf5350" />
<polygon points="282.0,568.0 296.0,566.0 314.0,560.0 330.0,556.0 342.0,554.0 326.0,564.0 290.0,580.0" fill="#bf5350" />
<polygon points="330.0,518.0 340.0,514.0 430.0,556.0 430.0,584.0 350.0,548.0 348.0,526.0" fill="#5a54aa" />
<polygon points="350.0,480.0 430.0,480.0 430.0,520.0 378.0,520.0 366.0,510.0 348.0,512.0 342.0,500.0" fill="#5a54aa" />
<polygon points="368.0,486.0 382.0,480.0 430.0,480.0 430.0,510.0 386.0,510.0 370.0,516.0" fill="#4d8539" />
<polygon points="254.0,526.0 282.0,513.0 330.0,518.0 348.0,526.0 350.0,548.0 342.0,554.0 306.0,556.0 282.0,550.0 258.0,560.0 249.0,558.0 250.0,542.0" fill="#84c663" />
<polygon points="249.0,542.0 282.0,550.0 258.0,560.0 249.0,558.0" fill="#6fb253" />
<polygon points="186.0,510.0 194.4,507.0 250.0,532.4 310.0,564.4 370.0,596.4 398.4,608.4 409.0,620.0 400.0,625.6 365.6,609.6 305.6,575.6 245.6,543.6 189.6,518.4" fill="#5a54aa" />
<polygon points="162.0,528.0 184.0,514.0 200.0,524.0 198.0,534.0 188.0,542.0 170.0,536.0" fill="#84c663" />
<polygon points="176.0,527.0 188.0,522.0 190.0,525.0 178.0,531.0" fill="#5a54aa" />
<polygon points="137.0,502.0 142.0,499.0 152.0,506.0 160.0,512.0 156.0,515.0 142.0,507.0" fill="#84c663" />
<polyline points="218.0,517.0 226.0,514.0 236.0,516.0 234.0,521.0 224.0,520.0" fill="none" stroke="#84c663" stroke-width="3" />
<polyline points="366.0,589.0 374.0,586.0 382.0,589.0 380.0,594.0 370.0,593.0" fill="none" stroke="#84c663" stroke-width="3" />
<polygon points="335.0,393.0 387.0,363.0 395.0,373.0 391.0,381.0 335.0,411.0" fill="#3a6a2c" />
<polygon points="341.0,401.0 355.0,399.0 371.0,407.0 401.0,407.0 405.0,397.0 423.0,391.0 435.0,387.0 439.0,415.0 341.0,415.0" fill="#5c9b44" />
<polygon points="335.0,359.0 395.0,323.0 403.0,327.0 393.0,337.0 383.0,343.0 335.0,373.0" fill="#5a54aa" />
<polygon points="414.0,317.0 463.0,309.0 455.0,319.0 453.0,335.0 447.0,345.0 441.0,359.0 435.0,385.0 423.0,391.0 405.0,397.0 401.0,387.0 395.0,371.0 393.0,351.0 381.0,349.0 383.0,343.0 393.0,335.0 401.0,327.0" fill="#bf5350" />
<polygon points="411.0,327.0 421.0,323.0 423.0,335.0 415.0,343.0 409.0,339.0" fill="#9e4040" />
<polygon points="413.0,367.0 427.0,355.0 429.0,375.0 419.0,387.0 411.0,381.0" fill="#9e4040" />
<polygon points="423.0,327.0 453.0,317.0 451.0,333.0 443.0,345.0 429.0,343.0" fill="#cc6a64" />
<polygon points="455.0,315.0 467.0,307.0 479.0,321.0 493.0,343.0 509.0,359.0 505.0,375.0 491.0,385.0 475.0,395.0 455.0,405.0 439.0,415.0 433.0,385.0 441.0,355.0 449.0,335.0" fill="#5a9a44" />
<polygon points="467.0,339.0 475.0,343.0 483.0,355.0 475.0,363.0 465.0,359.0" fill="#bf5350" />
<polygon points="447.0,367.0 455.0,361.0 457.0,373.0 449.0,381.0" fill="#bf5350" />
<polygon points="533.0,343.0 555.0,327.0 595.0,303.0 635.0,283.0 635.0,355.0 615.0,363.0 581.0,375.0 549.0,357.0" fill="#7abc5b" />
<polygon points="547.0,355.0 555.0,343.0 600.0,319.0 635.0,309.0 635.0,355.0 615.0,363.0 581.0,375.0" fill="#56923f" />
<polygon points="581.0,375.0 615.0,363.0 635.0,355.0 635.0,396.0 615.0,389.0" fill="#5a54aa" />
<polygon points="509.0,359.0 511.0,358.0 535.0,375.0 559.0,389.0 587.0,403.0 611.0,415.0 555.0,415.0 535.0,401.0 515.0,395.0 491.0,407.0 479.0,415.0 463.0,415.0 475.0,401.0 493.0,387.0 505.0,375.0" fill="#bf5350" />
<polygon points="515.0,395.0 535.0,401.0 555.0,415.0 491.0,415.0" fill="#4d8539" />
<polygon points="463.0,415.0 479.0,403.0 487.0,407.0 479.0,415.0" fill="#5a54aa" />
<polygon points="479.0,295.0 487.0,288.0 495.0,289.4 501.0,299.0 511.0,317.0 527.0,337.0 549.0,357.0 581.0,375.0 615.0,389.0 635.0,399.0 685.0,417.5 735.0,426.0 770.0,426.0 775.0,430.0 760.0,440.0 750.0,445.0 722.5,440.0 685.0,435.0 650.0,427.5 622.5,420.0 587.0,403.0 559.0,389.0 535.0,375.0 511.0,358.0 499.0,347.0 483.0,327.0 469.0,306.0" fill="#5a54aa" />
<polygon points="479.0,295.0 487.0,288.0 495.0,289.4 501.0,299.0 511.0,317.0 527.0,337.0 549.0,357.0 581.0,375.0 615.0,389.0 635.0,399.0 685.0,417.5 735.0,426.0 770.0,426.0 775.0,430.0 765.0,435.0 750.0,436.0 722.0,433.0 685.0,426.0 650.0,415.0 620.0,407.0 585.0,392.0 555.0,376.0 530.0,360.0 510.0,342.0 495.0,322.0 485.0,305.0 474.0,300.0" fill="#6560b8" />
<polygon points="507.0,272.0 521.0,277.0 515.0,285.0 507.0,295.0 501.0,299.0 495.0,289.0 487.0,287.0 493.0,282.0 503.0,281.0" fill="#bf5350" />
<polygon points="547.0,215.0 515.0,243.0 485.0,275.0 455.0,295.0 427.0,309.0 414.0,315.0 409.0,320.0 421.0,318.0 439.0,316.0 463.0,309.0 475.0,301.0 483.0,289.0 495.0,277.0 511.0,261.0 531.0,241.0 557.0,215.0" fill="#79bd5a" />
<polygon points="557.0,215.0 593.0,215.0 555.0,249.0 520.0,278.0 507.0,272.0 495.0,277.0 511.0,261.0 531.0,241.0" fill="#ece436" />
<polygon points="593.0,215.0 555.0,249.0 520.0,278.0 515.0,275.0 549.0,245.0 585.0,215.0" fill="#d9d02c" />
<polygon points="565.0,215.0 573.0,215.0 535.0,247.0 511.0,267.0 507.0,265.0 531.0,243.0" fill="#f4ee6a" />
<polygon points="400.0,450.4 467.2,420.0 512.0,455.2 569.6,472.8 560.0,488.8 547.2,503.2 544.0,516.0 544.0,540.0 400.0,540.0" fill="#5a54aa" />
<polygon points="400.0,519.2 448.0,519.2 467.2,528.8 496.0,522.4 544.0,516.0 540.8,540.0 400.0,540.0" fill="#dcdce0" />
<polygon points="536.0,516.0 544.0,516.0 544.0,540.0 537.6,540.0" fill="#5a54aa" />
<polygon points="400.0,450.4 467.2,420.0 502.4,407.2 528.0,396.0 544.0,397.6 560.0,407.2 576.0,412.0 592.0,421.6 588.8,444.0 576.0,469.6 569.6,471.2 512.0,455.2 496.0,450.4 464.0,452.0 448.0,447.2 409.6,453.6" fill="#5c9b44" />
<polygon points="512.0,412.0 528.0,396.0 544.0,397.6 560.0,407.2 576.0,412.0 592.0,421.6 588.8,444.0 576.0,466.4 560.0,456.8 560.0,428.0 536.0,420.0" fill="#6aab4e" />
<polygon points="454.4,456.8 496.0,453.6 515.2,458.4 569.6,472.8 560.0,488.8 547.2,503.2 544.0,516.0 496.0,517.6 472.0,508.0 464.0,492.0" fill="#4f8a3c" />
<polygon points="515.2,458.4 569.6,472.8 560.0,488.8 547.2,503.2 528.0,506.4 524.8,482.4" fill="#467c35" />
<polygon points="400.0,455.2 438.4,450.4 448.0,460.0 452.8,488.8 435.2,508.0 400.0,508.0" fill="#5c9b44" />
<polygon points="400.0,476.0 432.0,472.8 444.8,482.4 448.0,492.0 435.2,508.0 400.0,508.0" fill="#4f8a3c" />
<polygon points="467.2,511.2 489.6,509.6 496.0,522.4 467.2,528.8" fill="#5c9b44" />
<polygon points="585.6,479.2 592.0,452.0 608.0,444.0 640.0,432.8 640.0,524.0 620.8,527.2 560.0,533.6 544.0,540.0 544.0,516.0 547.2,503.2 560.0,488.8 569.6,472.8 576.0,469.6" fill="#5e9e46" />
<polygon points="569.6,479.2 585.6,482.4 608.0,492.0 636.8,492.0 633.6,508.0 608.0,524.0 560.0,530.4 547.2,517.6 553.6,498.4" fill="#6aab4e" />
<polygon points="464.0,423.2 468.8,415.2 486.4,400.8 499.2,384.8 505.6,380.0 528.0,380.0 560.0,392.8 600.0,408.8 640.0,421.6 640.0,431.2 624.0,426.4 608.0,421.6 592.0,421.6 576.0,412.0 560.0,407.2 544.0,397.6 528.0,396.0 502.4,407.2" fill="#bf5350" />
<polygon points="592.0,421.6 608.0,421.6 624.0,426.4 608.0,444.0 592.0,452.0 585.6,479.2 576.0,469.6 588.8,444.0" fill="#bf5350" />
<polygon points="489.6,400.8 502.4,389.6 512.0,391.2 499.2,402.4" fill="#9e4040" />
<polygon points="424.0,412.0 489.6,380.0 502.4,380.0 489.6,399.2 464.0,408.0 432.0,422.4" fill="#5c9b44" />
<polygon points="400.0,436.0 464.0,407.2 483.2,400.8 486.4,404.0 467.2,420.0 400.0,450.4" fill="#5a54aa" />
<polygon points="403.2,440.8 414.4,436.0 416.0,440.0 405.6,445.6" fill="#4a4594" />
<rect x="584.0" y="514.4" width="5" height="4" fill="#e8ece4" transform="rotate(-15 584.0 514.4)"/>
<polygon points="479.0,295.0 487.0,288.0 495.0,289.4 501.0,299.0 511.0,317.0 527.0,337.0 549.0,357.0 581.0,375.0 615.0,389.0 635.0,399.0 685.0,417.5 735.0,426.0 770.0,426.0 775.0,430.0 760.0,440.0 750.0,445.0 722.5,440.0 685.0,435.0 650.0,427.5 622.5,420.0 587.0,403.0 559.0,389.0 535.0,375.0 511.0,358.0 499.0,347.0 483.0,327.0 469.0,306.0" fill="#5a54aa" />
<polygon points="479.0,295.0 487.0,288.0 495.0,289.4 501.0,299.0 511.0,317.0 527.0,337.0 549.0,357.0 581.0,375.0 615.0,389.0 635.0,399.0 685.0,417.5 735.0,426.0 770.0,426.0 775.0,430.0 765.0,435.0 750.0,436.0 722.0,433.0 685.0,426.0 650.0,415.0 620.0,407.0 585.0,392.0 555.0,376.0 530.0,360.0 510.0,342.0 495.0,322.0 485.0,305.0 474.0,300.0" fill="#6560b8" />
<polygon points="143.0,513.0 158.0,510.0 172.0,530.0 173.0,620.0 144.0,608.0" fill="#5a54aa" />
<polygon points="171.0,560.0 173.0,546.0 190.0,540.0 204.0,546.0 242.0,538.0 258.0,546.0 260.0,564.0 242.0,560.0 218.0,574.0 196.0,569.0" fill="#6560b8" />
<polygon points="171.0,560.0 196.0,569.0 218.0,574.0 242.0,560.0 258.0,564.0 274.0,570.0 284.0,574.0 279.0,592.0 274.0,608.0 304.0,621.0 310.0,610.0 328.0,608.0 325.0,623.0 319.0,634.0 348.0,639.0 356.0,628.0 379.0,638.0 379.0,655.0 366.0,657.0 310.0,646.0 254.0,620.0 220.0,609.0 190.0,608.0 173.0,608.0" fill="#5a54aa" />
<polygon points="143.8,605.0 167.5,617.5 187.5,625.0 210.0,637.5 247.5,648.8 275.0,662.5 310.0,681.2 342.5,697.5 371.2,711.2 372.5,715.0 365.0,728.8 310.0,707.5 260.0,686.2 210.0,663.8 165.0,636.2 145.0,618.8" fill="#6560b8" />
<polygon points="145.0,612.5 210.0,651.2 365.0,721.2 365.0,728.8 310.0,707.5 260.0,686.2 210.0,663.8 165.0,636.2 145.0,618.8" fill="#5a54aa" />
<polygon points="337.5,652.5 370.0,640.0 400.0,652.5 400.0,662.5 372.5,672.5 371.2,711.2 342.5,697.5" fill="#5a54aa" />
<polygon points="370.0,640.0 400.0,652.5 400.0,662.5 372.5,672.5" fill="#4a4594" />
<polygon points="201.2,606.2 212.5,606.2 215.0,622.5 207.5,627.5" fill="#4a4594" />
<polygon points="207.5,622.5 215.0,622.5 222.5,640.0 212.5,643.8 206.2,637.5" fill="#6db052" />
<polygon points="230.0,641.2 237.5,632.5 245.0,631.2 252.5,636.2 245.0,647.5 235.0,646.2" fill="#5a54aa" />
<polygon points="307.5,615.0 318.8,606.2 328.8,611.2 325.0,623.8 320.0,637.5 310.0,636.2" fill="#5a54aa" />
<polygon points="370.0,720.0 385.0,726.2 445.0,751.2 471.2,756.2 475.0,760.0 470.0,763.0 442.5,758.0 382.5,733.8 366.2,727.5" fill="#5a54aa" />
<polygon points="391.2,695.0 405.0,700.0 405.0,730.0 392.5,726.2" fill="#5a54aa" />
<polygon points="432.5,667.5 438.8,667.5 450.0,747.5 443.8,750.0" fill="#5a54aa" />
<polygon points="467.5,680.0 472.5,677.5 471.2,757.5 466.2,755.0" fill="#5a54aa" />
<polygon points="410.0,650.0 430.0,646.2 477.5,670.0 475.0,677.5 430.0,655.0 410.0,657.5" fill="#5a54aa" />
<polygon points="407.5,622.5 422.5,605.0 457.5,590.0 460.0,610.0 462.5,640.0 450.0,657.5 430.0,647.5 410.0,650.0 400.0,652.5" fill="#5a54aa" />
<polygon points="353.8,627.5 360.0,618.8 380.0,613.8 395.0,612.5 403.8,620.0 408.8,627.5 410.0,640.0 400.0,652.5 385.0,647.5 375.0,633.8 360.0,633.8" fill="#84c663" />
<polygon points="363.8,623.8 385.0,621.2 386.2,626.2 366.2,628.8" fill="#e8f0e0" />
<polygon points="393.8,655.0 406.2,652.5 407.5,700.0 397.5,701.2 392.5,695.0" fill="#6db052" />
<polygon points="462.5,665.0 482.5,668.8 487.5,671.2 485.0,676.2 467.5,675.0" fill="#84c663" />
<polygon points="468.8,680.0 476.2,685.0 480.0,697.5 477.5,707.5 471.2,710.0 468.8,695.0" fill="#84c663" />
<polygon points="461.2,746.2 468.8,743.8 468.8,755.0 462.5,753.8" fill="#6db052" />
<polygon points="452.0,575.0 470.0,570.0 500.0,575.0 530.0,570.0 545.0,580.0 542.0,630.0 520.0,640.0 495.0,650.0 475.0,645.0 465.0,650.0 450.0,660.0 465.0,625.0 460.0,600.0" fill="#bf5350" />
<polygon points="470.0,590.0 500.0,585.0 530.0,595.0 525.0,625.0 500.0,635.0 478.0,625.0" fill="#9e4040" />
<polygon points="392.0,640.0 406.0,618.0 456.0,588.0 460.0,620.0 466.0,636.0 460.0,652.0 448.0,660.0 430.0,660.0 410.0,652.0" fill="#5a54aa" />
<polygon points="458.0,594.0 460.0,576.0 472.0,570.0 484.0,580.0 528.0,566.0 532.0,576.0 546.0,574.0 540.0,584.0 540.0,640.0 508.0,642.0 500.0,648.0 480.0,652.0 468.0,660.0 460.0,664.0 448.0,660.0 460.0,652.0 466.0,636.0 460.0,620.0" fill="#bf5350" />
<polygon points="474.0,590.0 492.0,584.0 524.0,580.0 532.0,596.0 528.0,624.0 508.0,632.0 492.0,638.0 478.0,628.0 472.0,608.0" fill="#9e4040" />
<polygon points="488.0,586.0 520.0,572.0 528.0,578.0 500.0,588.0" fill="#cc6a64" />
<polygon points="380.0,528.0 454.0,566.0 500.0,560.0 560.0,546.0 620.0,532.0 680.0,512.0 680.0,526.0 660.0,526.0 580.0,556.0 528.0,566.0 480.0,578.0 450.0,580.0 380.0,544.0" fill="#5a54aa" />
<polygon points="380.0,528.0 454.0,566.0 500.0,560.0 560.0,546.0 620.0,532.0 680.0,512.0 680.0,517.0 620.0,537.0 560.0,551.0 500.0,565.0 454.0,571.0 380.0,533.0" fill="#6560b8" />
<polygon points="434.0,570.0 450.0,580.0 470.0,574.0 480.0,580.0 494.0,602.0 480.0,604.0 470.0,596.0 456.0,596.0 440.0,584.0 418.0,606.0 430.0,580.0" fill="#84c663" />
<circle cx="398.0" cy="546.0" r="1.1" fill="#2e2a66"/>
<circle cx="416.0" cy="556.0" r="1.1" fill="#2e2a66"/>
<circle cx="434.0" cy="566.0" r="1.1" fill="#2e2a66"/>
<circle cx="500.0" cy="563.0" r="1.1" fill="#2e2a66"/>
<circle cx="580.0" cy="550.0" r="1.1" fill="#2e2a66"/>
<circle cx="640.0" cy="530.0" r="1.1" fill="#2e2a66"/>
<ellipse cx="725.0" cy="333.0" rx="2.4" ry="1.5" fill="#eef3e8"/>
<ellipse cx="730.0" cy="390.0" rx="2.4" ry="1.5" fill="#eef3e8"/>
<ellipse cx="797.0" cy="352.0" rx="2.4" ry="1.5" fill="#eef3e8"/>
<ellipse cx="925.0" cy="430.0" rx="2.4" ry="1.5" fill="#eef3e8"/>
<ellipse cx="903.0" cy="413.0" rx="2.4" ry="1.5" fill="#eef3e8"/>
<ellipse cx="905.0" cy="476.0" rx="2.4" ry="1.5" fill="#eef3e8"/>
<ellipse cx="846.0" cy="504.0" rx="2.4" ry="1.5" fill="#eef3e8"/>
<ellipse cx="857.0" cy="468.0" rx="2.4" ry="1.5" fill="#eef3e8"/>
<ellipse cx="752.0" cy="330.0" rx="2.4" ry="1.5" fill="#eef3e8"/>
<ellipse cx="756.0" cy="341.0" rx="2.4" ry="1.5" fill="#eef3e8"/>
<ellipse cx="795.0" cy="351.0" rx="2.4" ry="1.5" fill="#eef3e8"/>
<ellipse cx="1007.0" cy="226.0" rx="1.3" ry="1.3" fill="#27401d"/>
<ellipse cx="1014.0" cy="243.0" rx="1.3" ry="1.3" fill="#27401d"/>
<ellipse cx="1010.0" cy="214.0" rx="1.3" ry="1.3" fill="#27401d"/>
<ellipse cx="1039.0" cy="338.0" rx="1.3" ry="1.3" fill="#27401d"/>
<ellipse cx="1002.0" cy="262.0" rx="1.3" ry="1.3" fill="#27401d"/>
<ellipse cx="1000.0" cy="290.0" rx="1.3" ry="1.3" fill="#27401d"/>
<ellipse cx="1043.0" cy="352.0" rx="1.3" ry="1.3" fill="#27401d"/>
<ellipse cx="1038.0" cy="372.0" rx="1.3" ry="1.3" fill="#27401d"/>
<ellipse cx="822.0" cy="548.0" rx="1.3" ry="1.3" fill="#27401d"/>
<ellipse cx="831.0" cy="544.0" rx="1.3" ry="1.3" fill="#27401d"/>
<ellipse cx="916.0" cy="545.0" rx="1.3" ry="1.3" fill="#27401d"/>
<ellipse cx="780.0" cy="583.0" rx="1.3" ry="1.3" fill="#27401d"/>
<ellipse cx="800.0" cy="575.0" rx="1.3" ry="1.3" fill="#27401d"/>
<ellipse cx="770.0" cy="540.0" rx="1.3" ry="1.3" fill="#27401d"/>
<ellipse cx="772.0" cy="470.0" rx="1.3" ry="1.3" fill="#27401d"/>
<ellipse cx="775.0" cy="505.0" rx="1.3" ry="1.3" fill="#27401d"/>
<ellipse cx="845.0" cy="231.0" rx="1.3" ry="1.3" fill="#27401d"/>
<ellipse cx="905.0" cy="178.0" rx="1.3" ry="1.3" fill="#27401d"/>
<ellipse cx="935.0" cy="190.0" rx="1.3" ry="1.3" fill="#27401d"/>
<ellipse cx="1077.0" cy="262.0" rx="1.3" ry="1.3" fill="#27401d"/>
<ellipse cx="1100.0" cy="305.0" rx="1.3" ry="1.3" fill="#27401d"/>
<ellipse cx="1150.0" cy="300.0" rx="1.3" ry="1.3" fill="#27401d"/>
<ellipse cx="1180.0" cy="330.0" rx="1.3" ry="1.3" fill="#27401d"/>
<ellipse cx="1135.0" cy="327.0" rx="1.3" ry="1.3" fill="#27401d"/>
<ellipse cx="1230.0" cy="330.0" rx="1.3" ry="1.3" fill="#27401d"/>
<ellipse cx="1225.0" cy="345.0" rx="1.3" ry="1.3" fill="#27401d"/>
<ellipse cx="690.0" cy="250.0" rx="1.3" ry="1.3" fill="#27401d"/>
<ellipse cx="700.0" cy="262.0" rx="1.3" ry="1.3" fill="#27401d"/>
<ellipse cx="655.0" cy="196.0" rx="1.3" ry="1.3" fill="#27401d"/>
<ellipse cx="720.0" cy="232.0" rx="1.3" ry="1.3" fill="#27401d"/>
<ellipse cx="1008" cy="395" rx="2.2" ry="5" fill="#22381a" transform="rotate(8 1008 395)"/>
<ellipse cx="803" cy="504" rx="1.6" ry="4" fill="#22381a"/>
<ellipse cx="1001" cy="221" rx="3" ry="2.2" fill="#2a4520"/>
<ellipse cx="330.0" cy="430.0" rx="1.1" ry="1.1" fill="#2e2a66"/>
<ellipse cx="345.0" cy="420.0" rx="1.1" ry="1.1" fill="#2e2a66"/>
<ellipse cx="392.0" cy="388.0" rx="1.1" ry="1.1" fill="#2e2a66"/>
<ellipse cx="422.0" cy="368.0" rx="1.1" ry="1.1" fill="#2e2a66"/>
<ellipse cx="470.0" cy="345.0" rx="1.1" ry="1.1" fill="#2e2a66"/>
<ellipse cx="283.0" cy="463.0" rx="1.1" ry="1.1" fill="#2e2a66"/>
<ellipse cx="262.0" cy="478.0" rx="1.1" ry="1.1" fill="#2e2a66"/>
<ellipse cx="238.0" cy="493.0" rx="1.1" ry="1.1" fill="#2e2a66"/>
<ellipse cx="300.0" cy="552.0" rx="1.1" ry="1.1" fill="#2e2a66"/>
<ellipse cx="330.0" cy="566.0" rx="1.1" ry="1.1" fill="#2e2a66"/>
<ellipse cx="360.0" cy="581.0" rx="1.1" ry="1.1" fill="#2e2a66"/>
<ellipse cx="390.0" cy="596.0" rx="1.1" ry="1.1" fill="#2e2a66"/>
<ellipse cx="420.0" cy="611.0" rx="1.1" ry="1.1" fill="#2e2a66"/>
<ellipse cx="220.0" cy="603.0" rx="1.1" ry="1.1" fill="#2e2a66"/>
<ellipse cx="240.0" cy="612.0" rx="1.1" ry="1.1" fill="#2e2a66"/>
<ellipse cx="300.0" cy="640.0" rx="1.1" ry="1.1" fill="#2e2a66"/>
<ellipse cx="330.0" cy="655.0" rx="1.1" ry="1.1" fill="#2e2a66"/>
<ellipse cx="560.0" cy="600.0" rx="1.1" ry="1.1" fill="#2e2a66"/>
<ellipse cx="575.0" cy="625.0" rx="1.1" ry="1.1" fill="#2e2a66"/>
<ellipse cx="690.0" cy="618.0" rx="1.1" ry="1.1" fill="#2e2a66"/>
<ellipse cx="175.0" cy="545.0" rx="1.1" ry="1.1" fill="#2e2a66"/>
<ellipse cx="160.0" cy="600.0" rx="1.1" ry="1.1" fill="#2e2a66"/>
<ellipse cx="335.0" cy="700.0" rx="1.1" ry="1.1" fill="#2e2a66"/>
<ellipse cx="352.0" cy="707.0" rx="1.1" ry="1.1" fill="#2e2a66"/>
<ellipse cx="430.0" cy="745.0" rx="1.1" ry="1.1" fill="#2e2a66"/>
<ellipse cx="455.0" cy="752.0" rx="1.1" ry="1.1" fill="#2e2a66"/>
<ellipse cx="772.0" cy="470.0" rx="1.4" ry="1.4" fill="#5a54aa"/>
<ellipse cx="852.0" cy="489.0" rx="1.4" ry="1.4" fill="#5a54aa"/>
<ellipse cx="773.0" cy="576.0" rx="1.4" ry="1.4" fill="#5a54aa"/>
<ellipse cx="1018.0" cy="476.0" rx="1.4" ry="1.4" fill="#5a54aa"/>
<ellipse cx="940.0" cy="470.0" rx="1.4" ry="1.4" fill="#5a54aa"/>
<polyline points="832.0,300.0 822.0,340.0 808.0,380.0 794.0,420.0 780.0,450.0 770.0,480.0 768.0,520.0 770.0,560.0 772.0,600.0" fill="none" stroke="#74b857" stroke-width="1.2" />
<polyline points="826.0,300.0 816.0,340.0 802.0,380.0 788.0,420.0 776.0,450.0" fill="none" stroke="#94d474" stroke-width="1.5" />
<polyline points="808.0,545.0 840.0,528.0 870.0,508.0 900.0,496.0 940.0,474.0 966.0,460.0" fill="none" stroke="#74b857" stroke-width="1.0" />
<polyline points="765.0,610.0 850.0,568.0 900.0,543.0 960.0,515.0 1000.0,497.0 1030.0,487.0" fill="none" stroke="#74b857" stroke-width="1.0" />
<polygon points="809.0,566.0 900.0,520.0 968.0,488.0 1028.0,470.0 1028.0,496.0 1000.0,504.0 960.0,524.0 900.0,552.0 844.0,580.0 790.0,606.0" fill="#7cc05c" opacity="0.9"/>
<polyline points="745.0,480.0 760.0,470.0 790.0,472.0 795.0,500.0 792.0,540.0 790.0,580.0" fill="none" stroke="#74b857" stroke-width="1.0" />
<polyline points="750.0,510.0 785.0,505.0 787.0,540.0 752.0,548.0 750.0,510.0" fill="none" stroke="#74b857" stroke-width="0.8" />
<polyline points="753.0,560.0 786.0,552.0 788.0,590.0 756.0,600.0 753.0,560.0" fill="none" stroke="#74b857" stroke-width="0.8" />
<polyline points="954.0,180.0 974.0,198.0 992.0,218.0 1000.0,234.0 1005.0,252.0 1012.0,268.0" fill="none" stroke="#94d474" stroke-width="1.6" />
<polyline points="670.0,207.5 700.0,220.0 735.0,240.0 760.0,250.0" fill="none" stroke="#74b857" stroke-width="0.8" />
<polyline points="735.0,226.2 750.0,225.0 760.0,232.5 762.5,245.0" fill="none" stroke="#74b857" stroke-width="0.8" />
<ellipse cx="638.0" cy="187.0" rx="1.6" ry="1.6" fill="#c9d944"/>
<ellipse cx="795.0" cy="265.0" rx="1.6" ry="1.6" fill="#c9d944"/>
<polyline points="905.0,250.0 940.0,262.0 975.0,275.0" fill="none" stroke="#3a632a" stroke-width="1.0" />
<polyline points="880.0,300.0 930.0,318.0 985.0,336.0" fill="none" stroke="#3a632a" stroke-width="1.0" />
<polyline points="930.0,420.0 950.0,412.0 955.0,440.0 935.0,448.0 930.0,420.0" fill="none" stroke="#39622a" stroke-width="0.9" />
<polyline points="740.0,320.0 760.0,310.0 800.0,330.0 805.0,350.0" fill="none" stroke="#36602a" stroke-width="0.9" />
<polyline points="745.0,345.0 790.0,365.0" fill="none" stroke="#36602a" stroke-width="0.9" />
<polyline points="745.0,318.0 760.0,345.0" fill="none" stroke="#578a3e" stroke-width="0.9" />
<polyline points="760.0,318.0 745.0,345.0" fill="none" stroke="#578a3e" stroke-width="0.9" />
<polyline points="770.0,325.0 785.0,350.0" fill="none" stroke="#578a3e" stroke-width="0.9" />
<polyline points="785.0,325.0 770.0,350.0" fill="none" stroke="#578a3e" stroke-width="0.9" />
<ellipse cx="1095" cy="800" rx="148" ry="82" fill="#b9b9bd" filter="url(#b8)" opacity="0.75"/>
<ellipse cx="1150" cy="790" rx="85" ry="80" fill="#b0b0b4" filter="url(#b8)" opacity="0.6"/>
<polygon points="1052.5,767.5 1075.0,736.2 1181.2,706.2 1191.2,715.0 1083.8,765.0 1083.8,785.0 1100.0,847.5 1065.0,770.0" fill="#d2d2d4" />
<path d="M937.5,732.5 L941.2,780 L1052.5,757.5 L1052.5,767.5 L1075,761.2 L1181.2,707.5 C1181.2,700 1181.2,690 1181.2,687.5 Z" fill="url(#gBlueSide)"/>
<polygon points="937.5,732.5 937.0,760.0 941.2,780.0 1052.5,757.5 1052.5,767.5 1075.0,761.2 1146.2,730.0 1181.2,707.5 1181.2,687.5 1075.0,736.2 945.0,763.8" fill="url(#gBlueSide)" />
<path d="M945,763.7 L1075,736.2 L1181.2,687.5 C1168,677 1150,668 1125,660 C1100,654 1075,653.5 1055,653.7 C1020,655 990,665 965,680 C945,695 937,712 937.5,732.5 C938,745 941,755 945,763.7Z" fill="url(#gBlueTop)"/>
<polygon points="923.8,783.8 941.2,801.2 941.2,827.5 925.0,810.0" fill="#e8e27a" />
<polygon points="941.2,801.2 1052.0,762.5 1052.0,775.0 941.2,827.5" fill="url(#gTan)" />
<polygon points="923.8,783.8 1051.2,757.0 1052.0,763.0 941.2,801.2" fill="#ebe32c" />
<path d="M952.5,817.5 L952.5,840 C975,860 1010,872 1050,876 C1075,877 1090,876 1100,874 L1100,847.5 Z" fill="url(#gRedSide)"/>
<path d="M1065,770 L1100,847.5 C1075,854 1040,853 1012.5,845 C985,838 965,828 952.5,817.5 Z" fill="url(#gRedTop)"/>
<path d="M1083.7,765 L1083.7,786 L1120,870 L1120,842.5 Z" fill="#587a48"/>
<path d="M1120,842.5 L1120,869 C1150,862 1180,850 1200,832 C1212,818 1218,805 1217.5,792 L1217.5,770 C1215,800 1170,832 1120,842.5Z" fill="url(#gGreenSide)"/>
<path d="M1083.7,765 L1191.2,715 C1205,727 1215,745 1217.5,765 C1218,790 1200,812 1175,825 C1155,835 1135,840 1120,842.5 Z" fill="url(#gGreenTop)"/>
<line x1="1136.5" y1="675.5" x2="1267.5" y2="675.5" stroke="#1a1a1a" stroke-width="1.3"/>
<line x1="1187" y1="776.7" x2="1267.5" y2="776.7" stroke="#1a1a1a" stroke-width="1.3"/>
<line x1="868" y1="808" x2="932" y2="808" stroke="#1a1a1a" stroke-width="1.3"/>
<line x1="868" y1="858" x2="1005" y2="858" stroke="#1a1a1a" stroke-width="1.3"/>
<text x="102" y="91" font-size="26" font-weight="700" textLength="258.5" lengthAdjust="spacingAndGlyphs">Gewichtsoptimierter</text>
<text x="366.5" y="91" font-size="26" font-weight="700" textLength="151.5" lengthAdjust="spacingAndGlyphs">Materialmix:</text>
<text x="101.5" y="128.5" font-size="26" font-weight="700" textLength="227.5" lengthAdjust="spacingAndGlyphs">Verwindungssteife</text>
<text x="342" y="128.5" font-size="26" font-weight="700" textLength="102" lengthAdjust="spacingAndGlyphs">Struktur</text>
<text x="453" y="128.5" font-size="26" font-weight="700" textLength="39" lengthAdjust="spacingAndGlyphs">mit</text>
<text x="502" y="128.5" font-size="26" font-weight="700" textLength="39" lengthAdjust="spacingAndGlyphs">nur</text>
<text x="102" y="166" font-size="26" font-weight="700" textLength="42" lengthAdjust="spacingAndGlyphs">241</text>
<text x="155" y="166" font-size="26" font-weight="700" textLength="132" lengthAdjust="spacingAndGlyphs">Kilogramm</text>
<text x="297" y="166" font-size="26" font-weight="700" textLength="100" lengthAdjust="spacingAndGlyphs">Gewicht</text>
<text x="1046.5" y="598.7" font-size="28" font-weight="700" textLength="198" lengthAdjust="spacingAndGlyphs">Gewichtsanteile</text>
<text x="1278.5" y="641.5" font-size="25"  textLength="129" lengthAdjust="spacingAndGlyphs">Aluminium-</text>
<text x="1278.5" y="676" font-size="25"  textLength="70" lengthAdjust="spacingAndGlyphs">Profile</text>
<text x="1359" y="676" font-size="25"  textLength="52.5" lengthAdjust="spacingAndGlyphs">45 %</text>
<text x="1278.5" y="743.5" font-size="25"  textLength="129" lengthAdjust="spacingAndGlyphs">Aluminium-</text>
<text x="1278.5" y="777.3" font-size="25"  textLength="73" lengthAdjust="spacingAndGlyphs">Bleche</text>
<text x="1361" y="777.3" font-size="25"  textLength="52" lengthAdjust="spacingAndGlyphs">31 %</text>
<text x="756" y="809.5" font-size="25"  textLength="56" lengthAdjust="spacingAndGlyphs">Stahl</text>
<text x="821" y="809.5" font-size="25"  textLength="37.5" lengthAdjust="spacingAndGlyphs">4 %</text>
<text x="612" y="859.3" font-size="25"  textLength="181.5" lengthAdjust="spacingAndGlyphs">Aluminium-Guss</text>
<text x="804" y="859.3" font-size="25"  textLength="54" lengthAdjust="spacingAndGlyphs">20 %</text>
<g transform="translate(80,860) scale(0.16)" fill="#161616"><polygon points="68,240 190,240 268,120 155,120"/><polygon points="200,240 265,240 340,120 285,120"/><polygon points="280,240 335,240 410,120 365,120"/><polygon points="350,240 395,240 468,120 430,120"/><polygon points="410,240 445,240 522,120 490,120"/><polygon points="470,240 530,240 555,208 680,208 680,240 745,240 745,120 555,120"/><polygon points="765,240 765,120 850,120 900,178 950,120 1035,120 1035,240 972,240 972,160 915,225 885,225 828,160 828,240"/><polygon points="1075,120 1330,120 1330,150 1140,150 1140,210 1268,210 1268,195 1200,195 1200,170 1330,170 1330,240 1075,240"/><polygon points="592,148 680,148 680,183 568,183" fill="#fff"/></g>
</svg>
</body></html>
